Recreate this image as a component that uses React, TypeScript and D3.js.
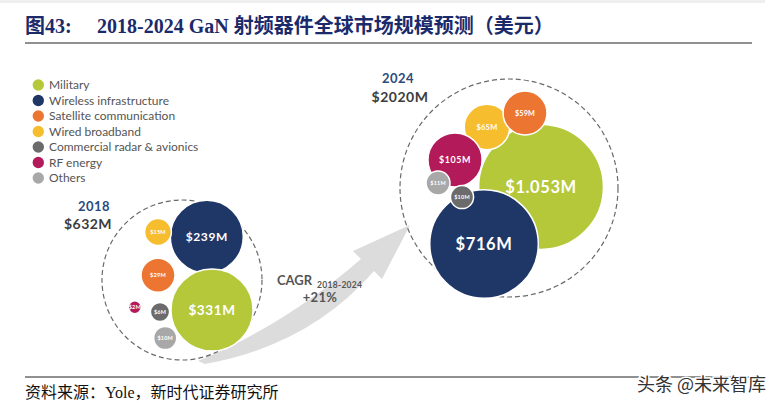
import React from "react";
import * as d3 from "d3";

// ---- data ----
const segments = [
  "Military",
  "Wireless infrastructure",
  "Satellite communication",
  "Wired broadband",
  "Commercial radar & avionics",
  "RF energy",
  "Others",
];
const years = ["2018", "2024"];
const totals = [632, 2020];
const values2018 = [331, 239, 29, 15, 6, 2, 10];
const values2024 = [1053, 716, 59, 65, 10, 105, 11];
const cagrPeriod = "2018-2024";
const cagrValue = "+21%";
const titleLead = "图43:";
const titleText = "2018-2024 GaN 射频器件全球市场规模预测（美元）";
const sourceText = "资料来源：Yole，新时代证券研究所";
const watermark = "头条 @未来智库";

// ---- styles / layout ----
const colors = ["#b4c83a", "#1f3766", "#ec7631", "#f6bd2e", "#6b6b6b", "#b31a5a", "#a8a8a8"];
const clusterLayout = [
  {
    cx: 182, cy: 280, R: 80,
    yearPos: [94, 211], totalPos: [88, 229],
    order: [1, 0, 2, 3, 5, 4, 6],
    anchors: [[0.375, 0.375], [0.31, -0.54], [-0.3, -0.06], [-0.3, -0.6], [-0.275, 0.4], [-0.59, 0.34], [-0.21, 0.725]],
  },
  {
    cx: 509, cy: 188, R: 109,
    yearPos: [398, 83], totalPos: [400, 102],
    order: [0, 1, 3, 2, 5, 6, 4],
    anchors: [[0.294, -0.009], [-0.229, 0.514], [0.147, -0.688], [-0.202, -0.56], [-0.431, 0.083], [-0.495, -0.257], [-0.651, -0.046]],
  },
];

const fmt = (v: number) => (v >= 1000 ? "$" + d3.format(",")(v).replace(",", ".") + "M" : "$" + v + "M");

export default function App() {
  const W = 771;
  const H = 405;
  const seriesValues = [values2018, values2024];
  const maxV = d3.max(seriesValues.flat()) as number;
  const rScale = d3.scalePow().exponent(0.362).domain([0, maxV]).range([0, 62.4]);

  const legendY = d3.scalePoint<number>().domain(d3.range(segments.length)).range([85, 178]);

  const arrow = d3.path();
  arrow.moveTo(198, 361);
  arrow.quadraticCurveTo(285, 325, 361, 259);
  arrow.lineTo(353, 251);
  arrow.lineTo(410, 225);
  arrow.lineTo(382, 279);
  arrow.lineTo(374, 271);
  arrow.quadraticCurveTo(310, 345, 205, 364);
  arrow.closePath();

  const sans = "Lato, 'Open Sans', sans-serif";

  return (
    <div style={{ position: "fixed", left: 0, top: 0, width: W, height: H, background: "#fff" }}>
      <svg width={W} height={H} style={{ display: "block" }}>
        <rect x={0} y={0} width={W} height={H} fill="#fff" />
        <rect x={0} y={0} width={765} height={3} fill="#efefef" />
        {/* Title */}
        <text x={25} y={33} fontFamily="'Liberation Serif', 'Noto Sans CJK SC', serif" fontWeight="bold" fontSize={20} fill="#1b2a6b">
          {titleLead}
        </text>
        <text x={97} y={33} fontFamily="'Liberation Serif', 'Noto Sans CJK SC', serif" fontWeight="bold" fontSize={20} fill="#1b2a6b">
          {titleText}
        </text>
        <line x1={25} x2={752} y1={43} y2={43} stroke="#222" strokeWidth={1.2} />

        {/* Legend */}
        {segments.map((s, i) => (
          <g key={s}>
            <circle cx={38.3} cy={legendY(i)} r={5.7} fill={colors[i]} />
            <text x={49} y={(legendY(i) as number) + 4.2} fontFamily={sans} fontSize={12} fill="#555">
              {s}
            </text>
          </g>
        ))}

        {/* Arrow */}
        <path d={arrow.toString()} fill="#dcdcdc" />

        {/* Clusters */}
        {clusterLayout.map((c, k) => {
          const vals = seriesValues[k];
          return (
            <g key={years[k]}>
              <circle cx={c.cx} cy={c.cy} r={c.R} fill="none" stroke="#6a6a6a" strokeWidth={1.2} strokeDasharray="5 3" />
              {c.order.map((i) => {
                const r = rScale(vals[i]);
                const x = c.cx + c.anchors[i][0] * c.R;
                const y = c.cy + c.anchors[i][1] * c.R;
                const fs = Math.max(5.5, Math.min(16.5, r * 0.33));
                return (
                  <g key={segments[i]}>
                    <circle cx={x} cy={y} r={r} fill={colors[i]} stroke="#fff" strokeWidth={1.5} />
                    <text x={x} y={y + fs * 0.36} textAnchor="middle" fontFamily={sans} fontWeight="bold" fontSize={fs} fill="#fff" letterSpacing={fs > 8 ? 0.6 : 0.2}>
                      {fmt(vals[i])}
                    </text>
                  </g>
                );
              })}
              <text x={c.yearPos[0]} y={c.yearPos[1]} textAnchor="middle" fontFamily={sans} fontWeight="bold" fontSize={13} fill="#2c4a7a" letterSpacing={0.4}>
                {years[k]}
              </text>
              <text x={c.totalPos[0]} y={c.totalPos[1]} textAnchor="middle" fontFamily={sans} fontWeight="bold" fontSize={14} fill="#3d3d3d" letterSpacing={0.5}>
                {"$" + totals[k] + "M"}
              </text>
            </g>
          );
        })}

        {/* CAGR */}
        <text x={277} y={285} fontFamily={sans} fontWeight="bold" fontSize={13} fill="#555">
          CAGR
        </text>
        <text x={317} y={288} fontFamily={sans} fontWeight="bold" fontSize={8.5} fill="#555" letterSpacing={0.3}>
          {cagrPeriod}
        </text>
        <text x={320} y={302} textAnchor="middle" fontFamily={sans} fontWeight="bold" fontSize={13} fill="#555" letterSpacing={0.3}>
          {cagrValue}
        </text>

        {/* Footer */}
        <line x1={25} x2={765} y1={377} y2={377} stroke="#222" strokeWidth={1} />
        <text x={25} y={398} fontFamily="'Liberation Serif', 'Noto Sans CJK SC', serif" fontSize={16} fill="#111">
          {sourceText}
        </text>
        <text x={766} y={391} textAnchor="end" fontFamily="'Noto Sans CJK SC', sans-serif" fontSize={18} fill="#333" stroke="#fff" strokeWidth={3} style={{ paintOrder: "stroke" }}>
          {watermark}
        </text>
      </svg>
    </div>
  );
}
